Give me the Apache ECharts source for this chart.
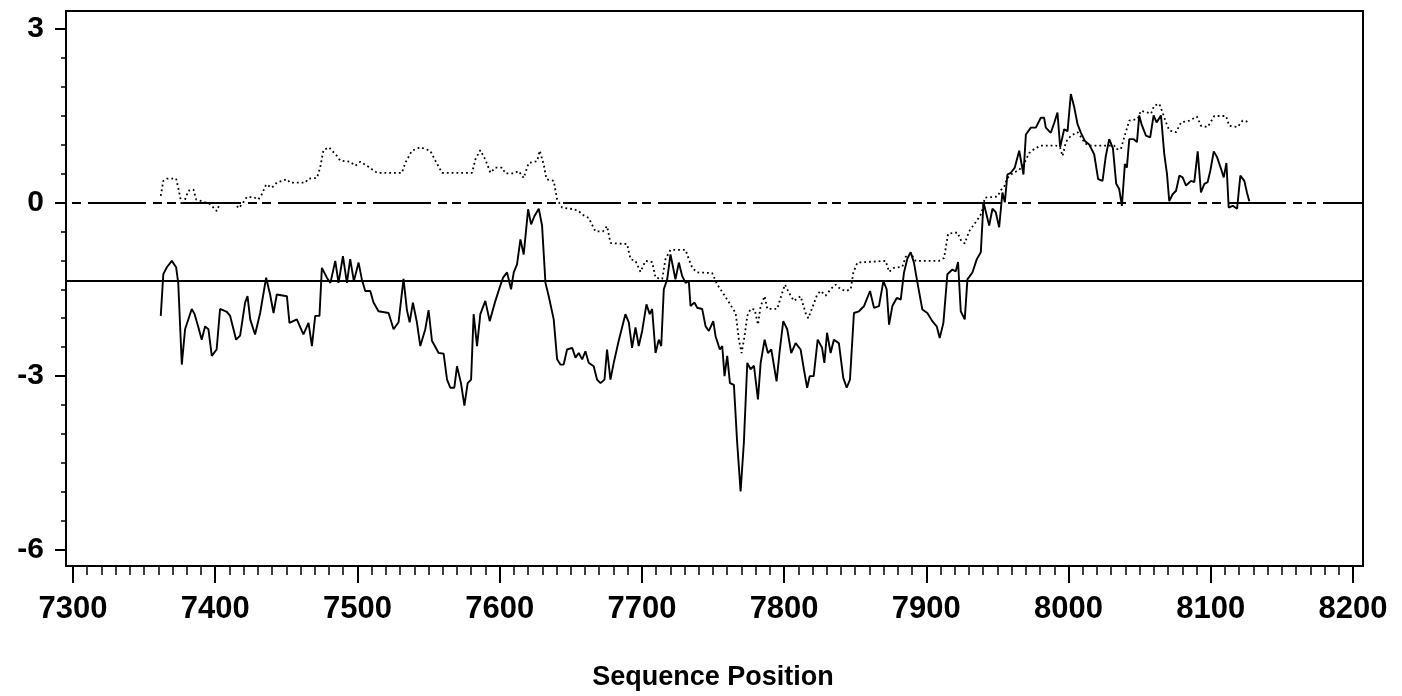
<!DOCTYPE html>
<html><head><meta charset="utf-8">
<script src="https://cdn.jsdelivr.net/npm/echarts@6/dist/echarts.min.js"></script>
<style>html,body{margin:0;padding:0;background:#fff}#c{width:1402px;height:696px}</style>
</head><body><div id="c"></div>
<script>
// ---- data ----
const xTicks = [7300, 7400, 7500, 7600, 7700, 7800, 7900, 8000, 8100, 8200];
const yTicks = [-6, -3, 0, 3];
const xAxisTitle = 'Sequence Position';
const zeroRef = 0;
const baselineRef = -1.36;

const solidPos = [7361.7,7363.5,7366,7369.5,7372.5,7374,7376.5,7378.8,7383.5,7385.5,7388.2,7390.5,7392.9,7395.2,7397.6,7401,7403.4,7408.2,7410.5,7414.7,7417.5,7421,7422.7,7424.6,7428,7431.6,7435.8,7438.6,7441,7443.3,7450.4,7452.2,7457.4,7462,7465.6,7468,7470.3,7473.3,7475,7478.5,7481,7484.4,7486.7,7489.8,7492.6,7494.9,7497.5,7500.8,7503.1,7505.5,7509,7511.3,7514.8,7521.9,7525.4,7528.9,7532.4,7534.8,7536.7,7539,7541.8,7544.2,7547.7,7550,7552.4,7557.1,7560.6,7563,7565.3,7568.1,7570,7572.8,7575.2,7577.5,7579.9,7581.7,7584.1,7586.4,7589.9,7593,7597,7600,7602.4,7605.2,7608,7609.9,7612.2,7614.6,7616.9,7620,7622.1,7624.4,7627.5,7629.8,7632.2,7634.5,7638,7640.4,7642.7,7645,7647.4,7651,7653.3,7655.6,7658,7660.3,7662.6,7666.1,7668.5,7670.9,7673.7,7675.5,7677.9,7680.2,7683.7,7688.4,7690.8,7693.1,7695.5,7697.8,7700.2,7703.2,7705.5,7707.2,7709.6,7711.9,7713.6,7715.4,7717.8,7720.1,7722,7723.6,7726,7728.3,7730.7,7733,7734.2,7737,7738.9,7742.4,7744.8,7747.1,7750.2,7751.8,7754.8,7756.5,7758.1,7760,7761.9,7764.7,7767,7769.4,7771.7,7774.1,7776.4,7778.8,7781.6,7783.5,7786.3,7788.6,7791,7794.7,7797,7799.4,7802.2,7805,7808.1,7811.6,7813.9,7816.2,7818,7820.8,7823.6,7826.7,7828.3,7830.2,7832.7,7835,7838.5,7841.6,7844,7846.3,7849.1,7852.6,7856.2,7860.4,7863.2,7866.7,7869.8,7872.1,7873.8,7876.1,7879.2,7882,7884.3,7886.7,7889,7891.3,7893.7,7897.2,7900.7,7904.2,7907.3,7909.4,7912,7914.8,7918.3,7920.7,7922.3,7924.2,7927,7928.9,7932.4,7935.5,7938.3,7940.2,7942.5,7944.2,7946.5,7948.8,7951.2,7953.5,7955.2,7957,7959.4,7962.2,7965.3,7968.3,7970,7973.5,7977,7980.5,7982.8,7984,7987.5,7989.9,7992.2,7994.1,7996.9,7999.3,8001.6,8004,8006.3,8008.7,8011.5,8014.5,8018,8020.8,8023.9,8026.2,8028.6,8031.2,8033.5,8035.6,8037.5,8039.6,8041,8042.7,8045.8,8048.1,8049.7,8051.3,8054.4,8057.4,8059.8,8061.9,8065,8067.3,8069.2,8070.8,8073.2,8075.6,8077.9,8080.2,8082.6,8086.1,8088.4,8090.8,8093.1,8095.5,8097.8,8099.7,8102.1,8104.4,8107.2,8109.1,8111,8112.6,8115.4,8118.5,8120.8,8123.6,8125.5,8127.1];
const solidVal = [-1.96,-1.24,-1.12,-1.01,-1.12,-1.39,-2.80,-2.19,-1.84,-1.93,-2.16,-2.37,-2.14,-2.19,-2.65,-2.54,-1.84,-1.89,-1.96,-2.37,-2.30,-1.73,-1.62,-2.02,-2.28,-1.91,-1.30,-1.59,-1.91,-1.59,-1.62,-2.08,-2.02,-2.28,-2.08,-2.48,-1.96,-1.96,-1.13,-1.30,-1.39,-1.01,-1.39,-0.93,-1.39,-0.98,-1.36,-1.04,-1.33,-1.53,-1.53,-1.73,-1.88,-1.91,-2.19,-2.07,-1.32,-1.86,-2.07,-1.73,-2.07,-2.48,-2.19,-1.86,-2.39,-2.60,-2.61,-3.06,-3.20,-3.20,-2.83,-3.12,-3.51,-3.12,-3.06,-1.93,-2.48,-1.93,-1.70,-2.05,-1.70,-1.47,-1.30,-1.21,-1.50,-1.21,-1.07,-0.64,-0.90,-0.12,-0.38,-0.24,-0.11,-0.40,-1.39,-1.62,-2.02,-2.71,-2.80,-2.80,-2.54,-2.51,-2.68,-2.60,-2.71,-2.57,-2.77,-2.83,-3.06,-3.12,-3.06,-2.54,-3.06,-2.77,-2.39,-1.93,-2.07,-2.51,-2.16,-2.48,-2.22,-1.76,-1.93,-1.84,-2.60,-2.37,-2.48,-1.50,-1.33,-0.90,-1.13,-1.33,-1.04,-1.27,-1.39,-1.36,-1.79,-1.73,-1.82,-1.84,-2.14,-2.22,-2.05,-2.31,-2.54,-2.48,-3.00,-2.65,-3.12,-3.15,-4.15,-4.99,-4.15,-2.77,-2.88,-2.82,-3.40,-2.77,-2.37,-2.60,-2.54,-3.09,-2.54,-2.05,-2.19,-2.60,-2.43,-2.54,-2.88,-3.20,-3.00,-3.00,-2.37,-2.51,-2.77,-2.25,-2.60,-2.37,-2.43,-3.03,-3.20,-3.06,-1.91,-1.88,-1.79,-1.53,-1.82,-1.79,-1.36,-1.50,-2.11,-1.79,-1.65,-1.68,-1.21,-0.97,-0.86,-1.04,-1.38,-1.85,-1.91,-2.05,-2.14,-2.34,-2.08,-1.24,-1.16,-1.19,-1.03,-1.88,-2.02,-1.33,-1.21,-0.98,-0.86,0.00,-0.23,-0.40,-0.11,-0.17,-0.43,0.17,0.00,0.48,0.51,0.60,0.89,0.48,1.17,1.29,1.29,1.46,1.46,1.29,1.20,1.37,1.55,0.95,1.26,1.23,1.87,1.64,1.35,1.20,1.06,1.00,0.83,0.40,0.37,0.80,1.09,0.93,0.32,0.23,-0.06,0.66,0.60,1.09,1.09,1.04,1.50,1.35,1.15,1.12,1.50,1.38,1.50,0.83,0.49,0.02,0.14,0.20,0.46,0.43,0.29,0.37,0.35,0.88,0.17,0.32,0.35,0.55,0.88,0.78,0.58,0.43,0.68,-0.09,-0.06,-0.11,0.46,0.37,0.16,0.02];

const dottedPos = [7361.7,7363.5,7366,7372.5,7374,7376.5,7378.8,7381.1,7384.7,7386.6,7396.4,7401.1,7403.4,7414,7416.3,7418.7,7422.2,7426.9,7430.4,7432.8,7435.8,7439.8,7443.3,7450.4,7452.7,7463.3,7465.6,7471.5,7473.8,7476.1,7480,7485.6,7487.9,7494.9,7498.5,7502,7506.7,7513.7,7531.3,7533.6,7538.3,7544.2,7551.2,7554.8,7559.5,7580.6,7582.9,7586.4,7589.9,7593.5,7597,7601.7,7604,7609.9,7613.4,7616.9,7620.4,7626.3,7628.2,7631,7632.9,7638,7640.4,7643.9,7652.1,7655.6,7658,7662.6,7667.3,7672.7,7675.5,7677.9,7682.6,7689.6,7692,7695.5,7699,7702.5,7707.2,7709.6,7714.3,7716.6,7720.1,7730.7,7733,7735.4,7738.9,7749.4,7753,7755.3,7760,7765.9,7768.2,7770.1,7772.2,7774.1,7776.4,7779.3,7781.6,7783.5,7786.3,7788.2,7795.2,7797.5,7800.6,7803.4,7806.9,7811.6,7815.1,7817,7819.8,7823.3,7825.7,7829.2,7832.7,7836.2,7839.8,7843.3,7846.8,7848.7,7851.5,7871.4,7873.8,7877.3,7883.2,7885.5,7889,7892.5,7908.9,7912.5,7915.3,7921.9,7924.2,7927,7930.1,7932.4,7936,7938.8,7941.1,7950,7952.4,7954.7,7957,7960.6,7965.3,7968.8,7972.3,7975.8,7980.5,7991.1,7994.1,7995.8,7998.1,8001.6,8006.3,8008.7,8011.5,8014.5,8032.1,8033.3,8036.8,8039.1,8042.7,8048.6,8050.9,8058,8060.2,8063.8,8066.1,8068.5,8070.8,8075.6,8079.1,8084.9,8090.3,8093.1,8097.8,8102.5,8110.7,8113,8118.9,8122.4,8124.8,8127.1];
const dottedVal = [0.11,0.37,0.41,0.41,0.25,-0.05,0.05,0.20,0.22,0.05,-0.03,-0.15,-0.01,-0.01,-0.10,-0.04,0.09,0.09,0.05,0.14,0.31,0.25,0.34,0.40,0.34,0.34,0.41,0.42,0.60,0.90,0.95,0.80,0.72,0.70,0.63,0.70,0.63,0.51,0.51,0.68,0.89,0.95,0.89,0.72,0.51,0.51,0.74,0.90,0.74,0.51,0.60,0.60,0.50,0.50,0.54,0.42,0.68,0.71,0.89,0.65,0.40,0.37,0.05,-0.09,-0.12,-0.15,-0.21,-0.27,-0.50,-0.50,-0.41,-0.70,-0.71,-0.72,-0.98,-1.01,-1.20,-1.01,-1.03,-1.30,-1.32,-0.98,-0.82,-0.82,-0.98,-1.13,-1.21,-1.22,-1.42,-1.50,-1.68,-1.91,-2.37,-2.60,-2.31,-1.96,-1.84,-1.85,-2.11,-1.79,-1.62,-1.84,-1.84,-1.65,-1.42,-1.56,-1.70,-1.62,-1.91,-2.00,-1.82,-1.59,-1.53,-1.61,-1.50,-1.42,-1.50,-1.53,-1.50,-1.21,-1.04,-1.01,-1.20,-1.13,-1.11,-0.94,-0.88,-1.01,-1.01,-0.96,-0.54,-0.52,-0.65,-0.71,-0.50,-0.42,-0.30,-0.19,0.08,0.10,0.21,0.27,0.42,0.50,0.56,0.67,0.85,0.92,0.98,0.98,0.94,0.80,1.04,1.15,1.21,1.13,1.02,0.98,0.98,0.92,0.92,1.12,1.41,1.44,1.58,1.53,1.67,1.70,1.55,1.38,1.24,1.21,1.38,1.41,1.48,1.32,1.30,1.49,1.49,1.32,1.30,1.41,1.40,1.37];

// ---- chart ----
const solidData = solidPos.map((x, i) => [x, solidVal[i]]);
const dottedData = dottedPos.map((x, i) => [x, dottedVal[i]]);
const FONT = '"Liberation Sans", Arial, Helvetica, sans-serif';

const chart = echarts.init(document.getElementById('c'), null, {renderer: 'canvas'});
chart.setOption({
  animation: false,
  backgroundColor: '#fff',
  grid: [
    {left: 66, right: 39, top: 11, bottom: 130, show: true, borderColor: '#000', borderWidth: 2, backgroundColor: 'transparent'},
    {left: 73, right: 49, top: 11, bottom: 130},
    {left: 66, right: 39, top: 28.5, bottom: 146}
  ],
  xAxis: [
    {gridIndex: 0, type: 'value', min: 7295.08, max: 8207.03, show: false},
    {gridIndex: 1, type: 'value', min: xTicks[0], max: xTicks[xTicks.length - 1], interval: 100,
      axisLine: {show: false},
      axisTick: {show: true, length: 17, lineStyle: {color: '#000', width: 2}},
      minorTick: {show: true, splitNumber: 10, length: 9, lineStyle: {color: '#000', width: 1.5}},
      splitLine: {show: false},
      axisLabel: {margin: 28, fontSize: 31, fontWeight: 'bold', color: '#000', fontFamily: FONT,
        formatter: v => String(v)},
      name: xAxisTitle, nameLocation: 'middle', nameGap: 98,
      nameTextStyle: {fontSize: 27, fontWeight: 'bold', color: '#000', fontFamily: FONT}
    },
    {gridIndex: 2, type: 'value', min: 0, max: 1, show: false}
  ],
  yAxis: [
    {gridIndex: 0, type: 'value', min: -6.276, max: 3.302, show: false},
    {gridIndex: 1, type: 'value', min: 0, max: 1, show: false},
    {gridIndex: 2, type: 'value', min: yTicks[0], max: yTicks[yTicks.length - 1], interval: 3,
      axisLine: {show: false},
      axisTick: {show: true, length: 11, lineStyle: {color: '#000', width: 2}},
      minorTick: {show: true, splitNumber: 6, length: 5, lineStyle: {color: '#000', width: 1.5}},
      splitLine: {show: false},
      axisLabel: {margin: 22, fontSize: 30, fontWeight: 'bold', color: '#000', fontFamily: FONT,
        formatter: v => String(v)}
    }
  ],
  series: [
    {
      type: 'line', xAxisIndex: 0, yAxisIndex: 0, data: dottedData,
      showSymbol: false, silent: true,
      lineStyle: {color: '#000', width: 1.8, type: [1.8, 3]}
    },
    {
      type: 'line', xAxisIndex: 0, yAxisIndex: 0, data: solidData,
      showSymbol: false, silent: true,
      lineStyle: {color: '#000', width: 1.9},
      markLine: {
        symbol: 'none', silent: true, label: {show: false},
        data: [
          {yAxis: zeroRef, lineStyle: {color: '#000', width: 2, type: [58, 7, 9, 5, 9, 7], dashOffset: 73}},
          {yAxis: baselineRef, lineStyle: {color: '#000', width: 2, type: 'solid'}}
        ]
      }
    }
  ]
});
</script>
</body></html>
